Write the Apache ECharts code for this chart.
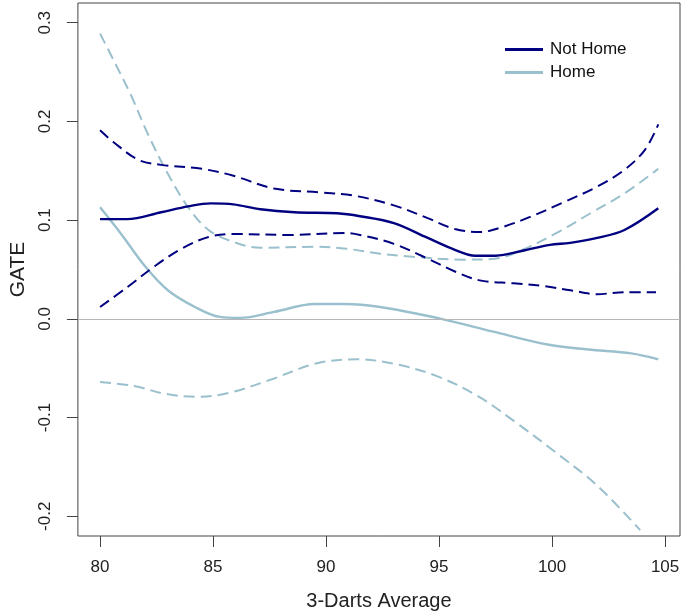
<!DOCTYPE html>
<html>
<head>
<meta charset="utf-8">
<script src="https://cdn.jsdelivr.net/npm/echarts@6/dist/echarts.min.js"></script>
<style>
    html, body { margin: 0; padding: 0; background: #fff; }
    #chart { width: 685px; height: 616px; }
</style>
</head>
<body>
<div id="chart"></div>
<script>
// values: x = 3-darts average, y = GATE
const xTicks = [80, 85, 90, 95, 100, 105];
const yTicks = [-0.2, -0.1, 0.0, 0.1, 0.2, 0.3];

const notHomeX = [80, 81.2, 82.7, 83.9, 84.9, 85.9, 87.1, 88.6, 90.5, 91.5, 93.0, 94.5, 95.7, 96.6, 97.5, 98.7, 99.9, 100.8, 102.0, 103.2, 104.7];
const notHomeY = [0.101, 0.101, 0.108, 0.114, 0.117, 0.116, 0.111, 0.108, 0.107, 0.104, 0.097, 0.082, 0.070, 0.064, 0.064, 0.069, 0.075, 0.077, 0.082, 0.090, 0.112];

const notHomeUpX = [80, 80.6, 81.7, 82.7, 84.5, 85.9, 87.7, 89.8, 91.2, 93.0, 94.5, 95.7, 96.8, 97.8, 99.0, 100.5, 102.0, 103.2, 104.1, 104.7];
const notHomeUpY = [0.191, 0.179, 0.161, 0.156, 0.152, 0.145, 0.132, 0.128, 0.125, 0.115, 0.102, 0.091, 0.088, 0.093, 0.103, 0.118, 0.134, 0.151, 0.171, 0.197];

const notHomeLoX = [80, 81.2, 82.4, 83.6, 84.8, 85.9, 88.3, 90.8, 91.5, 93.0, 94.5, 95.7, 96.8, 98.3, 99.7, 100.8, 102.0, 103.2, 104.6];
const notHomeLoY = [0.012, 0.032, 0.053, 0.071, 0.083, 0.086, 0.085, 0.087, 0.085, 0.076, 0.061, 0.048, 0.039, 0.036, 0.033, 0.029, 0.025, 0.027, 0.027];

const homeX = [80, 80.9, 82.0, 83.0, 84.2, 85.3, 86.2, 87.7, 89.5, 90.8, 92.4, 95.1, 97.4, 99.8, 101.6, 103.5, 104.7];
const homeY = [0.113, 0.087, 0.053, 0.029, 0.012, 0.002, 0.001, 0.007, 0.015, 0.015, 0.012, 0.000, -0.013, -0.026, -0.031, -0.035, -0.041];

const homeUpX = [80, 80.6, 81.4, 82.1, 83.0, 83.9, 84.8, 85.9, 87.1, 89.5, 90.9, 92.4, 93.8, 96.0, 97.5, 98.7, 100.2, 101.7, 103.2, 104.7];
const homeUpY = [0.289, 0.262, 0.225, 0.188, 0.147, 0.113, 0.090, 0.078, 0.072, 0.073, 0.071, 0.066, 0.063, 0.060, 0.061, 0.070, 0.087, 0.107, 0.127, 0.152];

const homeLoX = [80, 81.5, 82.9, 84.3, 85.7, 87.5, 89.6, 91.4, 93.1, 94.9, 96.7, 98.4, 100.2, 102.0, 103.9];
const homeLoY = [-0.064, -0.068, -0.076, -0.079, -0.075, -0.062, -0.045, -0.041, -0.046, -0.058, -0.078, -0.105, -0.136, -0.169, -0.214];

const navy = '#000080';
const lightBlue = '#9ac0cd';
const frameColor = '#444';
const font = '"Liberation Sans", Arial, sans-serif';

function zip(xs, ys) {
    return xs.map((x, i) => [x, ys[i]]);
}

function lineSeries(name, xs, ys, color, dashed) {
    return {
        name,
        type: 'line',
        data: zip(xs, ys),
        smooth: 0.35,
        symbol: 'none',
        silent: true,
        lineStyle: {
            color,
            width: dashed ? 2 : 2.4,
            type: dashed ? [11, 6] : 'solid'
        },
        itemStyle: { color }
    };
}

const chart = echarts.init(document.getElementById('chart'));

const homeSeries = lineSeries('Home', homeX, homeY, lightBlue, false);
homeSeries.markLine = {
    silent: true,
    symbol: 'none',
    label: { show: false },
    lineStyle: { color: '#b5b5b5', width: 1, type: 'solid' },
    data: [{ yAxis: 0 }]
};

chart.setOption({
    animation: false,
    grid: {
        left: 77, right: 5, top: 3, bottom: 79,
        show: true,
        borderColor: frameColor,
        borderWidth: 1,
        backgroundColor: '#fff'
    },
    legend: {
        data: ['Not Home', 'Home'],
        orient: 'vertical',
        left: 500,
        top: 36,
        icon: 'rect',
        itemWidth: 38,
        itemHeight: 3,
        itemGap: 6,
        textStyle: { fontFamily: font, fontSize: 17, color: '#111', padding: [0, 0, 0, 2] }
    },
    xAxis: {
        type: 'value',
        min: 79.02,
        max: 105.66,
        name: '3-Darts Average',
        nameLocation: 'middle',
        nameGap: 55,
        nameTextStyle: { fontFamily: font, fontSize: 20, color: '#222' },
        axisLine: { show: false, onZero: false },
        splitLine: { show: false },
        axisTick: { show: true, length: 11, customValues: xTicks, lineStyle: { color: frameColor } },
        axisLabel: {
            customValues: xTicks,
            margin: 23,
            fontFamily: font, fontSize: 17, color: '#222'
        }
    },
    yAxis: {
        type: 'value',
        min: -0.22,
        max: 0.32,
        name: 'GATE',
        nameLocation: 'middle',
        nameRotate: 90,
        nameGap: 48,
        nameTextStyle: { fontFamily: font, fontSize: 21, color: '#222' },
        axisLine: { show: false, onZero: false },
        splitLine: { show: false },
        axisTick: { show: true, length: 11, customValues: yTicks, lineStyle: { color: frameColor } },
        axisLabel: {
            customValues: yTicks,
            rotate: 90,
            margin: 24,
            formatter: v => v.toFixed(1),
            fontFamily: font, fontSize: 17, color: '#222'
        }
    },
    series: [
        homeSeries,
        lineSeries('Home CI upper', homeUpX, homeUpY, lightBlue, true),
        lineSeries('Home CI lower', homeLoX, homeLoY, lightBlue, true),
        lineSeries('Not Home CI upper', notHomeUpX, notHomeUpY, navy, true),
        lineSeries('Not Home CI lower', notHomeLoX, notHomeLoY, navy, true),
        lineSeries('Not Home', notHomeX, notHomeY, navy, false)
    ]
});
</script>
</body>
</html>
